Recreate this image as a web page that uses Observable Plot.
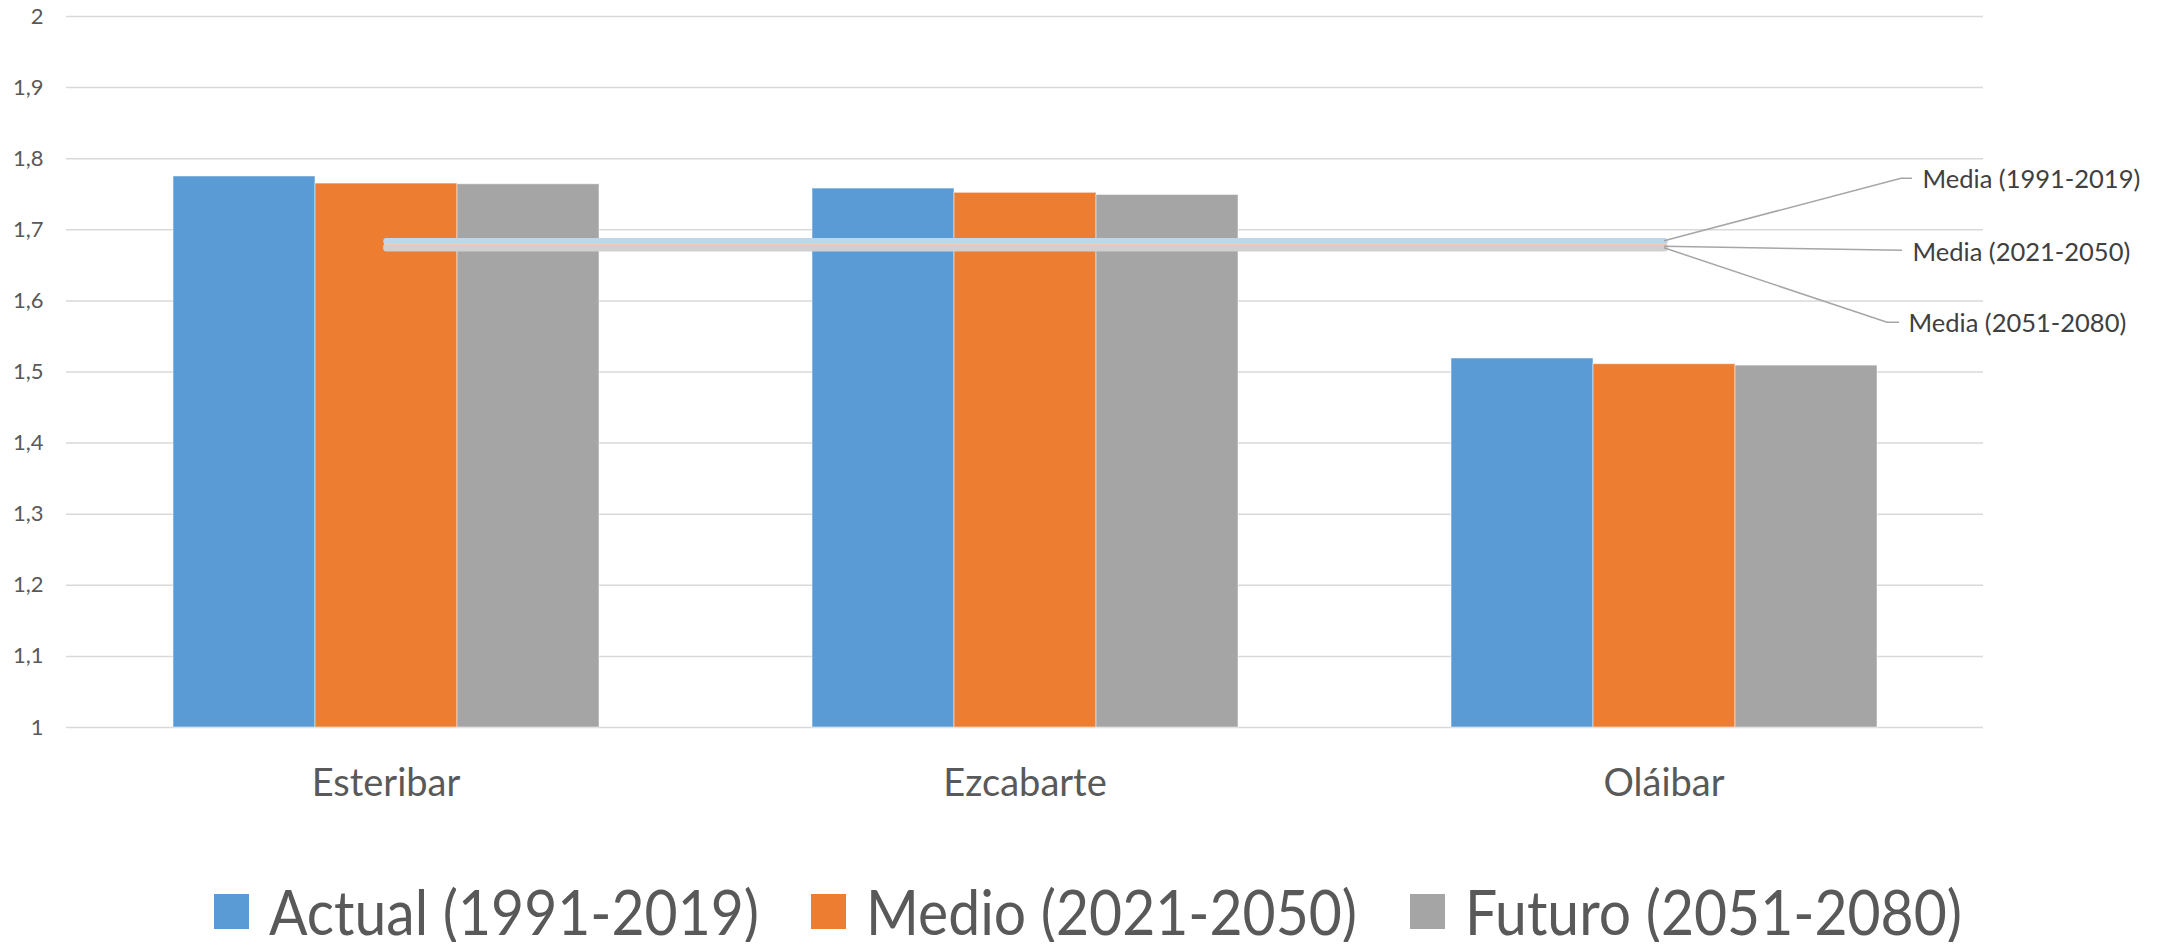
<!DOCTYPE html>
<html>
<head>
<meta charset="utf-8">
<script src="https://cdn.jsdelivr.net/npm/d3@7"></script>
<script src="https://cdn.jsdelivr.net/npm/@observablehq/plot@0.6"></script>
<style>
  html, body { margin: 0; padding: 0; background: #fff; overflow: hidden; }
  body { font-family: Lato, "Open Sans", sans-serif; }
  #wrap { position: relative; width: 2157px; height: 830px; }
  #wrap > svg { position: absolute; left: 0; top: 0; }
  #wrap > svg.overlay { pointer-events: none; }
  g[aria-label^="y-axis"] { font-size: 22px; color: #595959; }
  g[aria-label^="fx-axis"] { font-size: 38px; color: #595959; }
  #legend { display: flex; justify-content: center; align-items: center; gap: 52px;
            margin-top: 50px; height: 62px; padding-left: 19px; color: #595959; }
  .item { display: flex; align-items: center; gap: 20px; font-size: 62px; line-height: 62px; white-space: nowrap; }
  .item .lab { display: inline-block; transform: scaleX(0.92); transform-origin: 0 50%; }
  .sw { width: 35px; height: 35px; display: inline-block; }
</style>
</head>
<body>
<div id="wrap"></div>
<div id="legend"></div>
<script>
// ---- data ----
const categories = ["Esteribar", "Ezcabarte", "Oláibar"];
const seriesNames = ["Actual (1991-2019)", "Medio (2021-2050)", "Futuro (2051-2080)"];
const actualValues = [1.775, 1.758, 1.519];
const medioValues  = [1.765, 1.752, 1.511];
const futuroValues = [1.764, 1.749, 1.509];
const mediaNames  = ["Media (1991-2019)", "Media (2021-2050)", "Media (2051-2080)"];
const mediaValues = [1.684, 1.676, 1.674];
const yTicks = [1, 1.1, 1.2, 1.3, 1.4, 1.5, 1.6, 1.7, 1.8, 1.9, 2];
const yDomain = [1, 2];

// ---- styles ----
const barColors = ["#5B9BD5", "#ED7D31", "#A5A5A5"];
const mediaColors = ["#BDD7EE", "#F8CBAD", "#D0D0D0"];
const W = 2157, H = 830;
const M = {left: 65, right: 173, top: 16, bottom: 103};

const seriesValues = [actualValues, medioValues, futuroValues];
const rows = [];
categories.forEach((c, i) => seriesNames.forEach((s, j) => rows.push({category: c, series: s, value: seriesValues[j][i]})));

const fmt = v => Number.isInteger(v) ? String(v) : String(v).replace(".", ",");

const bars = Plot.plot({
  width: W, height: H,
  marginLeft: M.left, marginRight: M.right, marginTop: M.top, marginBottom: M.bottom,
  style: {fontFamily: "Lato, 'Open Sans', sans-serif", color: "#595959", background: "transparent"},
  fx: {domain: categories, padding: 0, label: null, axis: "bottom", tickSize: 0, tickPadding: 42},
  x: {domain: seriesNames, paddingInner: 0, paddingOuter: 0.748, axis: null},
  y: {domain: yDomain, ticks: yTicks, tickFormat: fmt, tickSize: 0, tickPadding: 23, label: null},
  color: {domain: seriesNames, range: barColors},
  marks: [
    Plot.ruleY(yTicks, {stroke: "#d9d9d9", strokeWidth: 1.5}),
    Plot.barY(rows, {fx: "category", x: "series", y1: () => yDomain[0], y2: "value", fill: "series",
                     stroke: "#ffffff", strokeWidth: 1, strokeOpacity: 0.5})
  ]
});

const overlay = Plot.plot({
  width: W, height: H,
  marginLeft: M.left, marginRight: M.right, marginTop: M.top, marginBottom: M.bottom,
  style: {fontFamily: "Lato, 'Open Sans', sans-serif", background: "transparent", overflow: "visible"},
  x: {type: "point", domain: categories, padding: 0.5, axis: null},
  y: {domain: yDomain, axis: null},
  marks: [
    ...mediaValues.map((v, k) => Plot.line(categories, {
      x: d => d, y: () => v, stroke: mediaColors[k], strokeWidth: 6.5, strokeLinecap: "round"
    })),
    ...[[258, -61.4], [248, 6], [244, 75.5]].map(([dx, dy], k) => Plot.text([mediaNames[k]], {
      x: () => categories[categories.length - 1], y: () => mediaValues[k], text: d => d,
      dx, dy, textAnchor: "start", fontSize: 25.5, fill: "#404040"
    }))
  ]
});
overlay.classList.add("overlay");

const wrap = document.getElementById("wrap");
wrap.appendChild(bars);
wrap.appendChild(overlay);

// leader lines for the media labels, anchored through the plot's own scales
const sx = overlay.scale("x"), sy = overlay.scale("y");
const leaders = [
  [[0, 0], [237, -62.4], [248, -62.4]],
  [[0, 0], [238, 4]],
  [[0, 0], [223, 74.5], [235, 74.5]]
];
const ex = sx.apply(categories[categories.length - 1]);
const g = d3.select(overlay).append("g").attr("fill", "none").attr("stroke", "#a6a6a6").attr("stroke-width", 1.5);
leaders.forEach((pts, k) => {
  const ey = sy.apply(mediaValues[k]);
  g.append("path").attr("d", d3.line()(pts.map(([a, b]) => [ex + a, ey + b])));
});

// legend
const legend = d3.select("#legend");
seriesNames.forEach((s, j) => {
  const it = legend.append("div").attr("class", "item");
  it.append("span").attr("class", "sw").style("background", barColors[j]);
  it.append("span").attr("class", "lab").text(s);
});
// compensate the horizontal condensing of the legend labels in the layout
legend.selectAll(".lab").each(function() {
  const w = this.offsetWidth;
  this.style.marginRight = (-w * 0.08) + "px";
});
</script>
</body>
</html>
